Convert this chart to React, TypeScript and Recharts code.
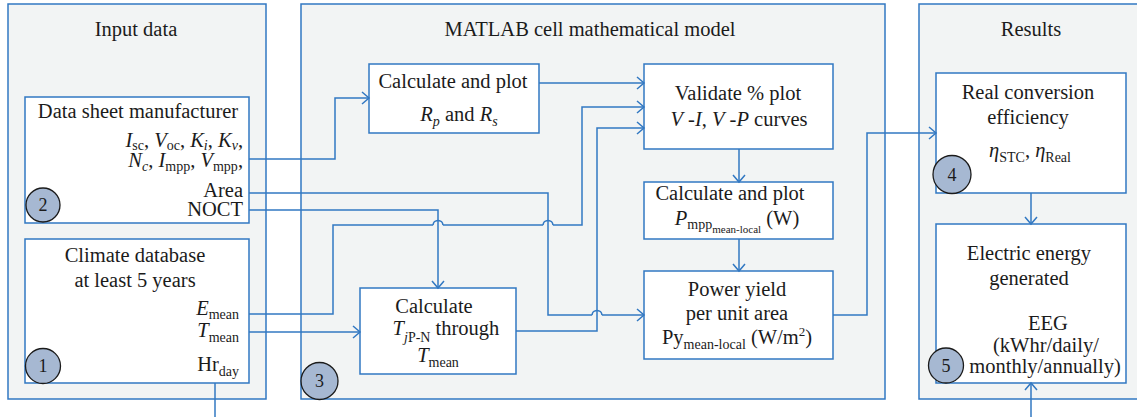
import React from 'react';
import { ComposedChart, XAxis, YAxis, ReferenceArea, Line, Scatter } from 'recharts';

const W = 1137;
const H = 417;
const BLUE = '#3278c2';
const PANEL_FILL = '#f2f4f4';
const BADGE_FILL = '#a6b8d2';
const FONT = '"Liberation Serif", "DejaVu Serif", serif';
const MAIN = 20.5;

type Run = { t: string; i?: boolean; s?: number };
type Label = { x: number; y: number; a: 'start' | 'middle' | 'end'; runs: Run[]; so?: number };

// outer panels (x1,x2,y1,y2 in picture units)
const panels = [
  { id: 'input', x1: 8, x2: 266, y1: 4, y2: 399 },
  { id: 'matlab', x1: 301, x2: 885, y1: 4, y2: 399 },
  { id: 'results', x1: 919, x2: 1141, y1: 4, y2: 399 },
];

// inner boxes
const boxes = [
  { id: 'datasheet', x1: 25, x2: 249, y1: 97, y2: 223 },
  { id: 'climate', x1: 25, x2: 249, y1: 239, y2: 383 },
  { id: 'rprs', x1: 369, x2: 539, y1: 64, y2: 133 },
  { id: 'validate', x1: 644, x2: 833, y1: 64, y2: 149 },
  { id: 'pmpp', x1: 644, x2: 833, y1: 182, y2: 239 },
  { id: 'power', x1: 644, x2: 833, y1: 271, y2: 359 },
  { id: 'tj', x1: 360, x2: 516, y1: 288, y2: 374 },
  { id: 'eff', x1: 936, x2: 1126, y1: 73, y2: 193 },
  { id: 'eeg', x1: 936, x2: 1126, y1: 224, y2: 383 },
];

// connector polylines; arrow = direction of head at last point
const connectors: { id: string; pts: number[][]; arrow?: 'r' | 'd' | 'u' }[] = [
  { id: 'ds-rprs', pts: [[249, 159], [335, 159], [335, 98], [369, 98]], arrow: 'r' },
  { id: 'rprs-val', pts: [[539, 83], [644, 83]], arrow: 'r' },
  { id: 'area-a', pts: [[249, 193], [548, 193], [548, 315], [592, 315]] },
  { id: 'area-b', pts: [[602, 315], [644, 315]], arrow: 'r' },
  { id: 'noct', pts: [[249, 210], [438, 210], [438, 288]], arrow: 'd' },
  { id: 'emean-a', pts: [[249, 314], [333, 314], [333, 225], [433, 225]] },
  { id: 'emean-b', pts: [[443, 225], [543, 225]] },
  { id: 'emean-c', pts: [[553, 225], [582, 225], [582, 107], [644, 107]], arrow: 'r' },
  { id: 'tmean', pts: [[249, 332], [360, 332]], arrow: 'r' },
  { id: 'tj-val', pts: [[516, 331], [597, 331], [597, 128], [644, 128]], arrow: 'r' },
  { id: 'val-pmpp', pts: [[739, 149], [739, 182]], arrow: 'd' },
  { id: 'pmpp-pow', pts: [[739, 239], [739, 271]], arrow: 'd' },
  { id: 'pow-eff', pts: [[833, 315], [867, 315], [867, 133], [936, 133]], arrow: 'r' },
  { id: 'eff-eeg', pts: [[1031, 193], [1031, 224]], arrow: 'd' },
  { id: 'in-eeg', pts: [[1031, 417], [1031, 383]], arrow: 'u' },
  { id: 'hrday', pts: [[215, 383], [215, 417]] },
];

// line-jump hops (centre of the jump)
const hops = [
  { x: 438, y: 225 },
  { x: 548, y: 225 },
  { x: 597, y: 315 },
];

// numbered badges
const badges = [
  { x: 43, y: 205, r: 17, n: '2' },
  { x: 43, y: 366, r: 17.5, n: '1' },
  { x: 319.5, y: 381, r: 18.5, n: '3' },
  { x: 952, y: 174.5, r: 19, n: '4' },
  { x: 946, y: 365.5, r: 17.5, n: '5' },
];

const labels: Label[] = [
  { x: 136, y: 36, a: 'middle', runs: [{ t: 'Input data' }] },
  { x: 590, y: 36, a: 'middle', runs: [{ t: 'MATLAB cell mathematical model' }] },
  { x: 1031, y: 36, a: 'middle', runs: [{ t: 'Results' }] },
  { x: 138, y: 118, a: 'middle', runs: [{ t: 'Data sheet manufacturer' }] },
  {
    x: 243, y: 147, a: 'end', so: 3,
    runs: [
      { t: 'I', i: true }, { t: 'sc', s: 1 }, { t: ', ' }, { t: 'V', i: true }, { t: 'oc', s: 1 }, { t: ', ' },
      { t: 'K', i: true }, { t: 'i', i: true, s: 1 }, { t: ', ' }, { t: 'K', i: true }, { t: 'ν', i: true, s: 1 }, { t: ',' },
    ],
  },
  {
    x: 243, y: 167, a: 'end', so: 4,
    runs: [
      { t: 'N', i: true }, { t: 'c', i: true, s: 1 }, { t: ', ' }, { t: 'I', i: true }, { t: 'mpp', s: 1 }, { t: ', ' },
      { t: 'V', i: true }, { t: 'mpp', s: 1 }, { t: ',' },
    ],
  },
  { x: 243, y: 197, a: 'end', runs: [{ t: 'Area' }] },
  { x: 243, y: 216, a: 'end', runs: [{ t: 'NOCT' }] },
  { x: 135, y: 262, a: 'middle', runs: [{ t: 'Climate database' }] },
  { x: 135, y: 287, a: 'middle', runs: [{ t: 'at least 5 years' }] },
  { x: 239, y: 315, a: 'end', so: 4, runs: [{ t: 'E', i: true }, { t: 'mean', s: 1 }] },
  { x: 239, y: 337, a: 'end', runs: [{ t: 'T', i: true }, { t: 'mean', s: 1 }] },
  { x: 239, y: 371, a: 'end', runs: [{ t: 'Hr' }, { t: 'day', s: 1 }] },
  { x: 453, y: 88, a: 'middle', runs: [{ t: 'Calculate and plot' }] },
  { x: 459, y: 121, a: 'middle', runs: [{ t: 'R', i: true }, { t: 'p', i: true, s: 1 }, { t: ' and ' }, { t: 'R', i: true }, { t: 's', i: true, s: 1 }] },
  { x: 738, y: 100, a: 'middle', runs: [{ t: 'Validate % plot' }] },
  {
    x: 739, y: 126, a: 'middle',
    runs: [{ t: 'V', i: true }, { t: ' -' }, { t: 'I', i: true }, { t: ', ' }, { t: 'V', i: true }, { t: ' -' }, { t: 'P', i: true }, { t: ' curves' }],
  },
  { x: 730, y: 200, a: 'middle', runs: [{ t: 'Calculate and plot' }] },
  {
    x: 737, y: 225, a: 'middle', so: 4,
    runs: [{ t: 'P', i: true }, { t: 'mpp', s: 1 }, { t: 'mean-local', s: 2 }, { t: ' (W)' }],
  },
  { x: 737, y: 296, a: 'middle', runs: [{ t: 'Power yield' }] },
  { x: 737, y: 320, a: 'middle', runs: [{ t: 'per unit area' }] },
  {
    x: 737, y: 344, a: 'middle',
    runs: [{ t: 'Py' }, { t: 'mean-local', s: 1 }, { t: ' (W/m' }, { t: '2', s: -1 }, { t: ')' }],
  },
  { x: 434, y: 313, a: 'middle', runs: [{ t: 'Calculate' }] },
  {
    x: 446, y: 335, a: 'middle', so: 7,
    runs: [{ t: 'T', i: true }, { t: 'j', i: true, s: 1 }, { t: 'P-N', s: 1 }, { t: ' through' }],
  },
  { x: 438, y: 362, a: 'middle', runs: [{ t: 'T', i: true }, { t: 'mean', s: 1 }] },
  { x: 1028, y: 99, a: 'middle', runs: [{ t: 'Real conversion' }] },
  { x: 1028, y: 124, a: 'middle', runs: [{ t: 'efficiency' }] },
  {
    x: 1030, y: 157, a: 'middle',
    runs: [{ t: 'η', i: true }, { t: 'STC', s: 1 }, { t: ', ' }, { t: 'η', i: true }, { t: 'Real', s: 1 }],
  },
  { x: 1029, y: 260, a: 'middle', runs: [{ t: 'Electric energy' }] },
  { x: 1029, y: 285, a: 'middle', runs: [{ t: 'generated' }] },
  { x: 1048, y: 330, a: 'middle', runs: [{ t: 'EEG' }] },
  { x: 1046, y: 352, a: 'middle', runs: [{ t: '(kWhr/daily/' }] },
  { x: 1045, y: 373, a: 'middle', runs: [{ t: 'monthly/annually)' }] },
];

const toXY = (pts: number[][]) => pts.map(([x, y]) => ({ x, y }));

const arrowHead = (p: number[], dir: 'r' | 'd' | 'u') => {
  const [x, y] = p;
  if (dir === 'r') return [[x - 7, y - 6], [x, y], [x - 7, y + 6]];
  if (dir === 'd') return [[x - 6, y - 7], [x, y], [x + 6, y - 7]];
  return [[x - 6, y + 7], [x, y], [x + 6, y + 7]];
};

const hopPoints = (h: { x: number; y: number }) => {
  const rx = 5;
  const ry = 4.5;
  return [0, 30, 60, 90, 120, 150, 180].map((deg) => {
    const a = (deg * Math.PI) / 180;
    return { x: h.x - rx * Math.cos(a), y: h.y - ry * Math.sin(a) };
  });
};

const fontFor = (s: number) => (s === 1 ? 14 : s === 2 ? 11 : s === -1 ? 13 : MAIN);

const RichText = (props: any) => {
  const { cx, cy, payload } = props;
  const lab: Label = payload;
  const so = lab.so ?? 5;
  let cur = 0;
  return (
    <text
      x={cx}
      y={cy}
      textAnchor={lab.a}
      fontFamily={FONT}
      fill="#1b1b1b"
      style={{ whiteSpace: 'pre' }}
    >
      {lab.runs.map((r, k) => {
        const s = r.s ?? 0;
        const off = s === 1 ? so : s === 2 ? so + 4 : s === -1 ? -8 : 0;
        const dy = off - cur;
        cur = off;
        return (
          <tspan key={k} dy={dy} fontSize={fontFor(s)} fontStyle={r.i ? 'italic' : 'normal'}>
            {r.t}
          </tspan>
        );
      })}
    </text>
  );
};

const Badge = (props: any) => {
  const { cx, cy, payload } = props;
  return (
    <g>
      <circle cx={cx} cy={cy} r={payload.r} fill={BADGE_FILL} stroke="#1b1b1b" strokeWidth={1.3} />
      <text x={cx} y={cy + 6} textAnchor="middle" fontFamily={FONT} fontSize={18} fill="#1b1b1b">
        {payload.n}
      </text>
    </g>
  );
};

export default function App() {
  return (
    <div style={{ position: 'absolute', left: 0, top: 0, width: W, height: H, overflow: 'hidden', background: '#fff' }}>
      <ComposedChart width={W} height={H} margin={{ top: 0, right: 0, bottom: 0, left: 0 }}>
        <XAxis type="number" dataKey="x" domain={[0, W]} allowDataOverflow hide />
        <YAxis type="number" dataKey="y" domain={[0, H]} allowDataOverflow reversed hide />
        {panels.map((p) => (
          <ReferenceArea
            key={p.id}
            x1={p.x1}
            x2={p.x2}
            y1={p.y1}
            y2={p.y2}
            fill={PANEL_FILL}
            fillOpacity={1}
            stroke={BLUE}
            strokeWidth={1.5}
            ifOverflow="hidden"
          />
        ))}
        {boxes.map((b) => (
          <ReferenceArea
            key={b.id}
            x1={b.x1}
            x2={b.x2}
            y1={b.y1}
            y2={b.y2}
            fill="#ffffff"
            fillOpacity={1}
            stroke={BLUE}
            strokeWidth={1.5}
            ifOverflow="visible"
          />
        ))}
        {connectors.map((c) => (
          <Line
            key={c.id}
            data={toXY(c.pts)}
            dataKey="y"
            type="linear"
            stroke={BLUE}
            strokeWidth={1.5}
            dot={false}
            activeDot={false}
            isAnimationActive={false}
            legendType="none"
          />
        ))}
        {connectors
          .filter((c) => c.arrow)
          .map((c) => (
            <Line
              key={c.id + '-head'}
              data={toXY(arrowHead(c.pts[c.pts.length - 1], c.arrow!))}
              dataKey="y"
              type="linear"
              stroke={BLUE}
              strokeWidth={1.5}
              dot={false}
              activeDot={false}
              isAnimationActive={false}
              legendType="none"
            />
          ))}
        {hops.map((h, k) => (
          <Line
            key={'hop' + k}
            data={hopPoints(h)}
            dataKey="y"
            type="monotone"
            stroke={BLUE}
            strokeWidth={1.5}
            dot={false}
            activeDot={false}
            isAnimationActive={false}
            legendType="none"
          />
        ))}
        <Scatter data={badges} shape={Badge} isAnimationActive={false} legendType="none" />
        <Scatter data={labels} shape={RichText} isAnimationActive={false} legendType="none" />
      </ComposedChart>
    </div>
  );
}
